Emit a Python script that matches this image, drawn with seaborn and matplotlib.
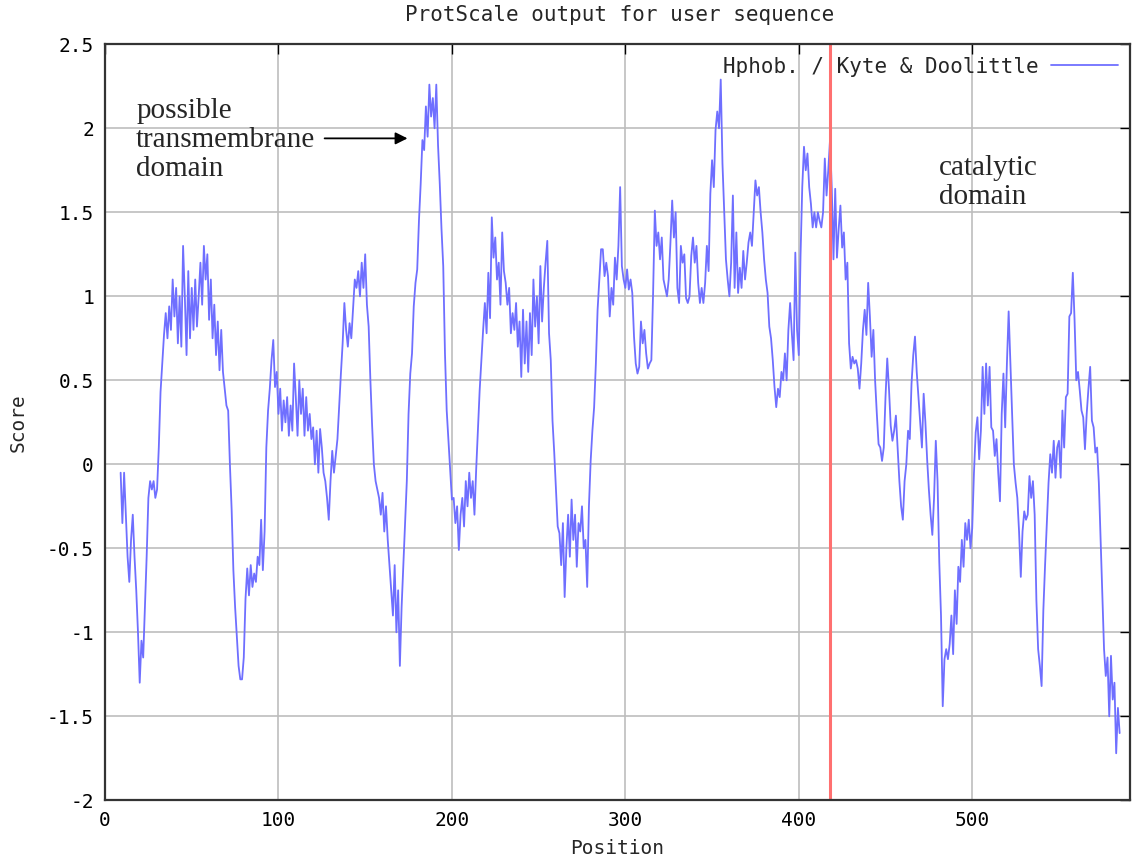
import matplotlib
matplotlib.use("Agg")
import matplotlib.pyplot as plt
import seaborn as sns
import pandas as pd

# Kyte & Doolittle hydropathy scores
start_pos = 9
scores = [
    -0.05,
    -0.35, -0.05, -0.3, -0.55, -0.7, -0.45, -0.3, -0.55, -0.75, -1.0,   # 10
    -1.3, -1.05, -1.15, -0.85, -0.55, -0.2, -0.1, -0.15, -0.1, -0.2,    # 20
    -0.15, 0.1, 0.43, 0.6, 0.77, 0.9, 0.75, 0.94, 0.8, 1.1,             # 30
    0.88, 1.05, 0.72, 1.0, 0.7, 1.3, 1.0, 0.65, 1.15, 0.75,             # 40
    1.05, 0.8, 1.1, 0.82, 1.0, 1.2, 0.95, 1.3, 1.1, 1.25,               # 50
    0.86, 1.1, 0.75, 0.95, 0.65, 0.85, 0.56, 0.8, 0.55, 0.45,           # 60
    0.35, 0.32, 0.0, -0.27, -0.63, -0.85, -1.03, -1.2, -1.28, -1.28,    # 70
    -1.15, -0.8, -0.62, -0.78, -0.6, -0.73, -0.65, -0.7, -0.55, -0.6,   # 80
    -0.33, -0.63, -0.4, 0.1, 0.32, 0.45, 0.62, 0.74, 0.46, 0.55,        # 90
    0.3, 0.45, 0.2, 0.38, 0.25, 0.4, 0.17, 0.35, 0.2, 0.6,              # 100
    0.4, 0.17, 0.5, 0.3, 0.45, 0.17, 0.4, 0.2, 0.3, 0.15,               # 110
    0.22, 0.0, 0.2, -0.05, 0.21, 0.1, -0.05, -0.1, -0.2, -0.33,         # 120
    -0.1, 0.08, -0.05, 0.05, 0.15, 0.35, 0.54, 0.72, 0.96, 0.8,         # 130
    0.7, 0.84, 0.75, 0.93, 1.1, 1.05, 1.15, 1.0, 1.2, 1.05,             # 140
    1.25, 0.95, 0.82, 0.5, 0.23, 0.0, -0.1, -0.15, -0.2, -0.3,          # 150
    -0.17, -0.4, -0.25, -0.45, -0.6, -0.75, -0.9, -0.6, -1.0, -0.75,    # 160
    -1.2, -0.85, -0.6, -0.34, -0.1, 0.3, 0.54, 0.66, 0.94, 1.08,        # 170
    1.16, 1.45, 1.67, 1.93, 1.87, 2.13, 1.95, 2.26, 2.07, 2.18,         # 180
    2.0, 2.26, 1.9, 1.67, 1.4, 1.18, 0.66, 0.32, 0.14, -0.05,           # 190
    -0.21, -0.2, -0.35, -0.25, -0.51, -0.3, -0.2, -0.37, -0.1, -0.25,   # 200
    -0.05, -0.2, -0.1, -0.3, -0.03, 0.2, 0.44, 0.62, 0.8, 0.96,         # 210
    0.78, 1.14, 0.87, 1.47, 1.23, 1.35, 1.1, 1.2, 0.95, 1.38,           # 220
    1.15, 1.08, 0.95, 1.05, 0.78, 0.9, 0.8, 0.96, 0.7, 0.85,            # 230
    0.52, 0.92, 0.6, 0.85, 0.55, 0.9, 0.65, 1.1, 0.82, 1.0,             # 240
    0.72, 1.18, 0.85, 1.05, 1.2, 1.33, 0.78, 0.62, 0.26, 0.07,          # 250
    -0.15, -0.37, -0.41, -0.6, -0.35, -0.79, -0.5, -0.3, -0.55, -0.21,  # 260
    -0.45, -0.3, -0.61, -0.35, -0.4, -0.25, -0.5, -0.45, -0.73, -0.25,  # 270
    0.02, 0.2, 0.34, 0.6, 0.92, 1.1, 1.28, 1.28, 1.12, 1.2,             # 280
    1.12, 0.88, 1.05, 0.95, 1.23, 1.1, 1.3, 1.65, 1.18, 1.1,            # 290
    1.05, 1.16, 1.04, 1.1, 1.02, 0.76, 0.6, 0.54, 0.58, 0.85,           # 300
    0.72, 0.8, 0.66, 0.57, 0.6, 0.62, 1.02, 1.51, 1.3, 1.38,            # 310
    1.22, 1.35, 1.1, 1.05, 1.0, 1.1, 1.32, 1.57, 1.35, 1.5,             # 320
    1.05, 0.96, 1.3, 1.2, 1.25, 0.99, 0.96, 1.0, 1.24, 1.35,            # 330
    1.2, 1.3, 1.08, 0.96, 1.05, 0.96, 1.08, 1.3, 1.15, 1.61,            # 340
    1.81, 1.65, 1.99, 2.1, 2.0, 2.29, 1.79, 1.5, 1.22, 1.1,             # 350
    1.0, 1.2, 1.6, 1.05, 1.38, 1.02, 1.17, 1.05, 1.27, 1.1,             # 360
    1.2, 1.32, 1.38, 1.3, 1.5, 1.69, 1.6, 1.65, 1.5, 1.38,              # 370
    1.22, 1.1, 1.02, 0.82, 0.75, 0.62, 0.46, 0.34, 0.45, 0.4,           # 380
    0.55, 0.5, 0.66, 0.5, 0.8, 0.96, 0.78, 0.62, 1.26, 0.8,             # 390
    0.65, 1.24, 1.65, 1.89, 1.75, 1.85, 1.65, 1.55, 1.41, 1.5,          # 400
    1.41, 1.5, 1.45, 1.41, 1.5, 1.82, 1.6, 1.75, 1.93, 1.65,            # 410
    1.22, 1.64, 1.23, 1.4, 1.54, 1.29, 1.38, 1.1, 1.2, 0.72,            # 420
    0.57, 0.64, 0.6, 0.62, 0.57, 0.45, 0.6, 0.8, 0.92, 0.77,            # 430
    1.08, 0.88, 0.64, 0.8, 0.5, 0.3, 0.12, 0.1, 0.02, 0.1,              # 440
    0.4, 0.63, 0.45, 0.23, 0.14, 0.2, 0.29, 0.1, -0.1, -0.25,           # 450
    -0.33, -0.1, 0.0, 0.2, 0.15, 0.48, 0.65, 0.76, 0.55, 0.4,           # 460
    0.25, 0.1, 0.42, 0.25, 0.03, -0.15, -0.3, -0.42, -0.2, 0.14,        # 470
    -0.1, -0.58, -0.9, -1.44, -1.16, -1.1, -1.16, -1.07, -0.9, -1.13,   # 480
    -0.75, -0.95, -0.61, -0.7, -0.45, -0.61, -0.35, -0.45, -0.33, -0.5, # 490
    -0.38, -0.05, 0.19, 0.28, 0.03, 0.2, 0.58, 0.3, 0.6, 0.35,          # 500
    0.58, 0.22, 0.2, 0.05, 0.15, -0.05, -0.22, 0.3, 0.54, 0.22,         # 510
    0.6, 0.91, 0.6, 0.3, 0.0, -0.11, -0.2, -0.4, -0.67, -0.4,           # 520
    -0.28, -0.33, -0.3, -0.07, -0.2, -0.1, -0.3, -0.81, -1.1, -1.2,     # 530
    -1.32, -0.87, -0.6, -0.35, -0.11, 0.06, -0.05, 0.14, -0.08, 0.1,    # 540
    0.14, -0.08, 0.32, 0.1, 0.4, 0.42, 0.88, 0.9, 1.14, 0.86,           # 550
    0.5, 0.55, 0.44, 0.32, 0.28, 0.09, 0.3, 0.45, 0.58, 0.26,           # 560
    0.22, 0.07, 0.1, -0.11, -0.43, -0.77, -1.1, -1.26, -1.15, -1.5,     # 570
    -1.14, -1.4, -1.3, -1.72, -1.45, -1.6,                              # 580
]
positions = list(range(start_pos, start_pos + len(scores)))

boundary_pos = 418
legend_label = "Hphob. / Kyte & Doolittle"
y_ticks = [-2, -1.5, -1, -0.5, 0, 0.5, 1, 1.5, 2, 2.5]
y_tick_labels = ["-2", "-1.5", "-1", "-0.5", "0", "0.5", "1", "1.5", "2", "2.5"]
x_ticks = [0, 100, 200, 300, 400, 500]

df = pd.DataFrame({"Position": positions, "Score": scores})

sns.set_style("white")
mono = ["DejaVu Sans Mono"]
serif = ["Liberation Serif", "DejaVu Serif"]
fs = 14

fig = plt.figure(figsize=(11.33, 8.6), dpi=100)
ax = fig.add_axes([0.0927, 0.0694, 0.9047, 0.8791])

ax.grid(True, color="#bdbdbd", linewidth=1.2)
ax.set_axisbelow(True)

sns.lineplot(data=df, x="Position", y="Score", ax=ax, color="#6f6fff",
             linewidth=1.3, label=legend_label)
ax.axvline(boundary_pos, color="#ff7070", linewidth=2.2)

ax.set_xlim(0, 591)
ax.set_ylim(-2, 2.5)
ax.set_xticks(x_ticks)
ax.set_xticklabels([str(t) for t in x_ticks], family=mono, fontsize=fs)
ax.set_yticks(y_ticks)
ax.set_yticklabels(y_tick_labels, family=mono, fontsize=fs)
ax.tick_params(direction="in", length=7, width=1, top=True, right=True,
               pad=8, colors="black")
for s in ax.spines.values():
    s.set_color("#333333")
    s.set_linewidth(1.6)

ax.set_xlabel("Position", family=mono, fontsize=fs, labelpad=6)
ax.set_ylabel("Score", family=mono, fontsize=fs, labelpad=14)
fig.text(0.547, 0.983, "ProtScale output for user sequence", family=mono,
         fontsize=15, ha="center", va="center")

leg = ax.legend(loc="upper right", frameon=False, markerfirst=False,
                handlelength=3.2, handletextpad=0.6, borderaxespad=0.2,
                prop={"family": mono, "size": 15})

ax.text(18, 1.93, "possible\ntransmembrane\ndomain", family=serif,
        fontsize=21, ha="left", va="center", linespacing=1.15)
ax.annotate("", xy=(176, 1.94), xytext=(125, 1.94),
            arrowprops=dict(arrowstyle="-|>", color="black", lw=1.3,
                            mutation_scale=18))
ax.text(481, 1.68, "catalytic\ndomain", family=serif, fontsize=21,
        ha="left", va="center", linespacing=1.15)

fig.savefig("out.png", dpi=100)
